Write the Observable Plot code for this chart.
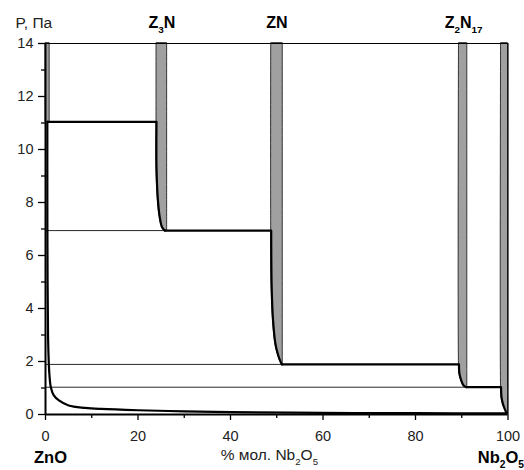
<!DOCTYPE html>
<html><head><meta charset="utf-8">
<script src="https://cdn.jsdelivr.net/npm/d3@7"></script>
<script src="https://cdn.jsdelivr.net/npm/@observablehq/plot@0.6"></script>
<style>body{margin:0;background:#fff}</style>
</head><body><div id="chart"></div>
<script>
// ---- tick values
const xTicks = [0, 20, 40, 60, 80, 100];
const xMinor = [10, 30, 50, 70, 90];
const yTicks = [0, 2, 4, 6, 8, 10, 12, 14];
const yMinor = [1, 3, 5, 7, 9, 11, 13];

// ---- phase bands (gray strips): left edge points (P, x) and right edge x
const bandNames = ["ZnO", "Z3N", "ZN", "Z2N17", "Nb2O5"];
const bandRight = [0.9, 26.3, 51.3, 91.2, 100];
const bandEdgeP = [
  [14, 11.04],
  [14, 11.04, 9.3, 8.1, 7.45, 7.07, 6.94],
  [14, 6.94, 4.8, 3.55, 2.68, 2.3, 2.04, 1.89],
  [14, 1.89, 1.54, 1.28, 1.09, 1.03],
  [14, 1.03, 0.65, 0.4, 0.21, 0.04]
];
const bandEdgeX = [
  [0, 0],
  [24.0, 24.0, 24.0, 24.3, 24.7, 25.2, 25.8],
  [48.8, 48.8, 48.9, 49.2, 49.7, 50.2, 50.7, 51.1],
  [89.4, 89.4, 89.5, 89.9, 90.4, 91.0],
  [98.5, 98.5, 98.6, 98.9, 99.3, 99.7]
];

// ---- ZnO-side boundary curve
const znoCurveX = [0.4, 0.4, 0.45, 0.55, 0.7, 0.85, 1.15, 1.8, 2.9, 5.0, 8.6, 12, 20, 30, 40, 60, 80, 99.7];
const znoCurveP = [11.04, 8, 5, 3, 2, 1.5, 1.03, 0.72, 0.53, 0.34, 0.25, 0.21, 0.16, 0.12, 0.09, 0.06, 0.05, 0.04];

// ---- plateaus (thick) and tie lines (thin)
const plateauP = [11.04, 6.94, 1.89, 1.03];
const plateauFrom = [0.4, 25.8, 51.1, 91.0];
const plateauTo = [24.0, 48.8, 89.4, 98.5];
const tieP = [6.94, 1.89, 1.03];
const tieTo = [25.8, 51.1, 91.0];

// ---- labels
const phaseLabels = ["Z{3}N", "ZN", "Z{2}N{17}"];
const phaseLabelX = [25.15, 50.05, 90.4];
const yTitle = "P, Па";
const xTitle = "% мол. Nb{2}O{5}";
const leftEnd = "ZnO";
const rightEnd = "Nb{2}O{5}";

// build tables
const bandRows = bandNames.flatMap((b, i) => bandEdgeP[i].map((p, j) => ({band: b, P: p, xl: bandEdgeX[i][j], xr: bandRight[i]})));
const boundaryRows = bandNames.slice(1).flatMap((b, k) => {
  const i = k + 1;
  return bandEdgeP[i].slice(1).map((p, j) => ({band: b, P: p, x: bandEdgeX[i][j + 1]}));
}).concat(znoCurveX.map((x, j) => ({band: "ZnOcurve", P: znoCurveP[j], x})));
const plateaus = plateauP.map((p, i) => ({P: p, x1: plateauFrom[i], x2: plateauTo[i]}));
const ties = tieP.map((p, i) => ({P: p, x2: tieTo[i]}));
const phaseRows = phaseLabels.map((t, i) => ({t, x: phaseLabelX[i]}));

const FONT = "'Liberation Sans', Arial, sans-serif";

const chart = Plot.plot({
  width: 524, height: 470,
  marginLeft: 45, marginRight: 16.5, marginTop: 43, marginBottom: 56,
  x: {domain: [0, 100]},
  y: {domain: [0, 14]},
  style: {fontFamily: FONT, fontSize: "14.5px", color: "#000", background: "#fff", overflow: "visible"},
  marks: [
    Plot.areaX(bandRows, {y: "P", x1: "xl", x2: "xr", z: "band", fill: "#a0a0a0", stroke: "#222", strokeWidth: 0.9, curve: "catmull-rom"}),
    Plot.ruleY(ties, {y: "P", x1: 0, x2: "x2", stroke: "#111", strokeWidth: 0.9}),
    Plot.ruleY(plateaus, {y: "P", x1: "x1", x2: "x2", stroke: "#000", strokeWidth: 2.2}),
    Plot.line(boundaryRows, {x: "x", y: "P", z: "band", stroke: "#000", strokeWidth: 2.2, curve: "catmull-rom"}),
    Plot.ruleY([14], {stroke: "#000", strokeWidth: 1.2}),
    Plot.ruleX([100], {y1: 0, y2: 14, stroke: "#000", strokeWidth: 1.2}),
    Plot.ruleX([0], {y1: 0, y2: 14, stroke: "#000", strokeWidth: 2}),
    Plot.ruleY([0], {x1: 0, x2: 100, stroke: "#000", strokeWidth: 2}),
    Plot.axisX(xTicks, {tickSize: 6, tickPadding: 10, strokeWidth: 1.3, label: null, fill: "#222"}),
    Plot.axisX(xMinor, {tickSize: 4, strokeWidth: 1.3, tickFormat: () => "", label: null}),
    Plot.axisY(yTicks, {tickSize: 7, tickPadding: 5, strokeWidth: 1.3, label: null, fill: "#222"}),
    Plot.axisY(yMinor, {tickSize: 4, strokeWidth: 1.3, tickFormat: () => "", label: null}),
    Plot.text(phaseRows, {x: "x", y: 14, text: "t", dy: -21, fontSize: 16, fontWeight: "bold", fill: "#000", clip: false}),
    Plot.text([yTitle], {x: 0, y: 14, text: d => d, dx: -30, dy: -20, textAnchor: "start", fontSize: 15.5, fill: "#222"}),
    Plot.text([leftEnd], {x: 0, y: 0, text: d => d, dx: 5, dy: 43, fontSize: 16.5, fontWeight: "bold", fill: "#000"}),
    Plot.text([xTitle], {x: 48.4, y: 0, text: d => d, dy: 41, fontSize: 15.5, fill: "#222"}),
    Plot.text([rightEnd], {x: 100, y: 0, text: d => d, dx: 16, dy: 43, textAnchor: "end", fontSize: 16.5, fontWeight: "bold", fill: "#000"})
  ]
});
document.getElementById("chart").appendChild(chart);

// subscripts: {n} -> lowered smaller tspan
const NS = "http://www.w3.org/2000/svg";
chart.querySelectorAll("text").forEach(t => {
  const s = t.textContent;
  if (!s.includes("{")) return;
  const fs = parseFloat(getComputedStyle(t).fontSize);
  const parts = s.split(/(\{[^}]*\})/).filter(p => p.length);
  t.textContent = "";
  let pending = 0;
  parts.forEach(p => {
    const ts = document.createElementNS(NS, "tspan");
    if (p.startsWith("{")) {
      ts.textContent = p.slice(1, -1);
      ts.setAttribute("font-size", (fs * 0.62).toFixed(2) + "px");
      const sh = fs * 0.32;
      ts.setAttribute("dy", (sh - pending).toFixed(2));
      pending = sh;
    } else {
      ts.textContent = p;
      if (pending) { ts.setAttribute("dy", (-pending).toFixed(2)); pending = 0; }
    }
    t.appendChild(ts);
  });
});
</script>
</body></html>
